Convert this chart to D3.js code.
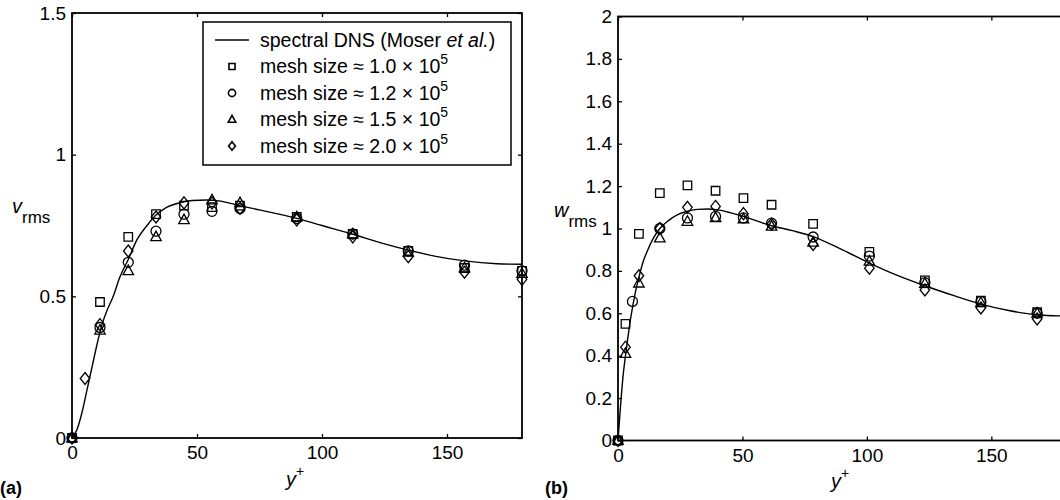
<!DOCTYPE html>
<html>
<head>
<meta charset="UTF-8">
<title>v_rms and w_rms profiles</title>
<script src="https://d3js.org/d3.v7.min.js"></script>
<style>
    body { margin: 0; background: #fff; }
    text { font-family: "Liberation Sans", Arial, Helvetica, sans-serif; fill: #000; }
    .tick text { font-size: 19px; }
</style>
</head>
<body>
<svg width="1060" height="500"></svg>
<script>
// ---- data: panel (a) v_rms ----
const xTicks = [0, 50, 100, 150];
const vTicks = [0, 0.5, 1, 1.5];
const wTicks = [0, 0.2, 0.4, 0.6, 0.8, 1, 1.2, 1.4, 1.6, 1.8, 2];

const vDnsX = [0, 2, 4, 6, 8, 10, 12, 14, 16.5, 19, 22.5, 26, 30, 33.6, 38, 43, 48, 54, 60, 67, 75, 90, 100, 112, 125, 135, 145, 157, 170, 180];
const vDnsY = [0, 0.03, 0.09, 0.17, 0.25, 0.33, 0.4, 0.45, 0.5, 0.565, 0.63, 0.7, 0.75, 0.787, 0.815, 0.83, 0.838, 0.84, 0.835, 0.82, 0.805, 0.775, 0.75, 0.72, 0.685, 0.662, 0.642, 0.625, 0.615, 0.613];

const vX = [0, 11.2, 22.5, 33.6, 44.8, 56, 67.2, 89.9, 112.3, 134.5, 157, 180];
const vSquare = [0, 0.48, 0.71, 0.79, 0.82, 0.815, 0.82, 0.78, 0.72, 0.66, 0.6, 0.59];
const vCircle = [0, 0.39, 0.62, 0.73, 0.79, 0.80, 0.81, 0.775, 0.72, 0.66, 0.61, 0.59];
const vTriangle = [0, 0.38, 0.59, 0.71, 0.77, 0.84, 0.83, 0.78, 0.72, 0.655, 0.6, 0.58];
const vDiamondX = [0, 5.2, 11.2, 22.5, 33.6, 44.8, 56, 67.2, 89.9, 112.3, 134.5, 157, 180];
const vDiamond = [0, 0.21, 0.40, 0.66, 0.78, 0.83, 0.83, 0.81, 0.77, 0.71, 0.64, 0.585, 0.56];

// ---- data: panel (b) w_rms ----
const wDnsX = [0, 1, 2, 3.35, 5, 7, 8.4, 10, 12, 14, 16.8, 20, 24, 27.5, 32, 36, 40, 45, 50.4, 56, 61.7, 70, 78.4, 90, 101, 112, 123.3, 135, 145.8, 157, 168.4, 180];
const wDnsY = [0, 0.16, 0.3, 0.43, 0.57, 0.7, 0.77, 0.84, 0.9, 0.95, 1.0, 1.035, 1.065, 1.08, 1.09, 1.092, 1.088, 1.075, 1.057, 1.035, 1.013, 0.99, 0.962, 0.9, 0.837, 0.78, 0.73, 0.683, 0.643, 0.613, 0.593, 0.587];

const wX = [0, 3, 8.4, 16.8, 27.9, 39.2, 50.4, 61.7, 78.4, 101, 123.3, 145.8, 168.4];
const wSquare = [0, 0.55, 0.975, 1.167, 1.203, 1.178, 1.143, 1.112, 1.022, 0.89, 0.755, 0.66, 0.605];
const wCircleX = [0, 5.8, 16.8, 27.9, 39.2, 50.4, 61.7, 78.4, 101, 123.3, 145.8, 168.4];
const wCircle = [0, 0.656, 1.0, 1.05, 1.057, 1.05, 1.025, 0.96, 0.87, 0.745, 0.655, 0.6];
const wTriangle = [0, 0.41, 0.742, 0.955, 1.033, 1.05, 1.045, 1.01, 0.935, 0.845, 0.74, 0.65, 0.6];
const wDiamond = [0, 0.44, 0.777, 1.0, 1.10, 1.104, 1.07, 1.02, 0.925, 0.813, 0.71, 0.625, 0.573];

const legendLabels = ["1.0", "1.2", "1.5", "2.0"];

const svg = d3.select("svg");

// marker shapes (r = half size in px)
function markerPath(kind, r) {
    if (kind === "square") return d3.symbol().type(d3.symbolSquare).size((2 * r * 0.85) ** 2)();
    if (kind === "circle") return d3.symbol().type(d3.symbolCircle).size(Math.PI * r * r)();
    if (kind === "triangle") {
        const h = r * 1.9;
        return "M0," + (-h * 0.6) + "L" + r * 1.05 + "," + h * 0.4 + "L" + (-r * 1.05) + "," + h * 0.4 + "Z";
    }
    return "M0," + (-r * 1.2) + "L" + r * 0.95 + ",0L0," + r * 1.2 + "L" + (-r * 0.95) + ",0Z";
}

function drawMarkers(g, x, y, xs, ys, kind) {
    g.selectAll(null)
        .data(xs.map((d, i) => [d, ys[i]]))
        .enter().append("path")
        .attr("d", markerPath(kind, 5))
        .attr("transform", d => "translate(" + x(d[0]) + "," + y(d[1]) + ")")
        .attr("fill", "none")
        .attr("stroke", "#000")
        .attr("stroke-width", 1.3);
}

function panel(opts) {
    const x = d3.scaleLinear().domain([0, 180]).range(opts.xr);
    const y = d3.scaleLinear().domain(opts.yd).range(opts.yr);
    const g = svg.append("g");

    // ticks on all four sides, pointing inward
    const tk = 4;
    g.append("g").attr("transform", "translate(0," + opts.yr[0] + ")")
        .call(d3.axisBottom(x).tickValues(xTicks).tickSize(-tk).tickPadding(8).tickFormat(d => String(d)));
    g.append("g").attr("transform", "translate(0," + opts.yr[1] + ")")
        .call(d3.axisTop(x).tickValues(xTicks).tickSize(-tk).tickFormat(""));
    g.append("g").attr("transform", "translate(" + opts.xr[0] + ",0)")
        .call(d3.axisLeft(y).tickValues(opts.ticks).tickSize(-tk).tickPadding(6).tickFormat(d => String(d)));
    g.append("g").attr("transform", "translate(" + opts.xr[1] + ",0)")
        .call(d3.axisRight(y).tickValues(opts.ticks).tickSize(-tk).tickFormat(""));
    g.selectAll(".domain").remove();
    g.selectAll(".tick line").attr("stroke", "#000").attr("stroke-width", 1.3);
    g.selectAll(".tick text").attr("fill", "#000");

    g.append("rect")
        .attr("x", opts.xr[0]).attr("y", opts.yr[1])
        .attr("width", opts.xr[1] - opts.xr[0]).attr("height", opts.yr[0] - opts.yr[1])
        .attr("fill", "none").attr("stroke", "#000").attr("stroke-width", 1.8);

    // DNS curve
    const line = d3.line().x(d => x(d[0])).y(d => y(d[1])).curve(d3.curveMonotoneX);
    g.append("path")
        .datum(opts.dnsX.map((d, i) => [d, opts.dnsY[i]]))
        .attr("d", line)
        .attr("fill", "none").attr("stroke", "#000").attr("stroke-width", 1.4);

    drawMarkers(g, x, y, opts.sq[0], opts.sq[1], "square");
    drawMarkers(g, x, y, opts.ci[0], opts.ci[1], "circle");
    drawMarkers(g, x, y, opts.tr[0], opts.tr[1], "triangle");
    drawMarkers(g, x, y, opts.di[0], opts.di[1], "diamond");

    // y label with subscript
    const yl = g.append("text").attr("x", opts.ylab[0]).attr("y", opts.ylab[1]);
    yl.append("tspan").style("font-style", "italic").style("font-size", "20px").text(opts.ysym);
    yl.append("tspan").attr("dy", 10).style("font-size", "17px").text("rms");

    // x label y+
    const xl = g.append("text").attr("x", opts.xlab[0]).attr("y", opts.xlab[1]);
    xl.append("tspan").style("font-style", "italic").style("font-size", "20px").text("y");
    xl.append("tspan").attr("dy", -10).style("font-size", "14px").text("+");

    g.append("text").attr("x", opts.tag[0]).attr("y", opts.tag[1])
        .style("font-weight", "bold").style("font-size", "18px").text(opts.tagText);
    return { x, y };
}

panel({
    xr: [72, 522], yr: [438, 13], yd: [0, 1.5], ticks: vTicks,
    dnsX: vDnsX, dnsY: vDnsY,
    sq: [vX, vSquare], ci: [vX, vCircle], tr: [vX, vTriangle], di: [vDiamondX, vDiamond],
    ysym: "v", ylab: [12, 213], xlab: [286, 486], tag: [0, 494], tagText: "(a)"
});

panel({
    xr: [618, 1066], yr: [440.5, 16.5], yd: [0, 2], ticks: wTicks,
    dnsX: wDnsX, dnsY: wDnsY,
    sq: [wX, wSquare], ci: [wCircleX, wCircle], tr: [wX, wTriangle], di: [wX, wDiamond],
    ysym: "w", ylab: [554, 217], xlab: [831, 488], tag: [545, 494], tagText: "(b)"
});

// legend
const lg = svg.append("g");
lg.append("rect").attr("x", 203).attr("y", 22).attr("width", 308).attr("height", 143)
    .attr("fill", "#fff").attr("stroke", "#000").attr("stroke-width", 1.5);
const rowY = [40, 66.5, 93, 119.5, 146];
lg.append("line").attr("x1", 215).attr("x2", 249).attr("y1", rowY[0]).attr("y2", rowY[0])
    .attr("stroke", "#000").attr("stroke-width", 1.4);
const t0 = lg.append("text").attr("x", 260).attr("y", rowY[0] + 6.5).style("font-size", "19.5px");
t0.append("tspan").text("spectral DNS (Moser ");
t0.append("tspan").style("font-style", "italic").text("et al.");
t0.append("tspan").text(")");

const kinds = ["square", "circle", "triangle", "diamond"];
kinds.forEach((k, i) => {
    const cy = rowY[i + 1];
    lg.append("path")
        .attr("d", markerPath(k, 3.6))
        .attr("transform", "translate(232," + cy + ")")
        .attr("fill", "none").attr("stroke", "#000").attr("stroke-width", 1.6);
    const t = lg.append("text").attr("x", 260).attr("y", cy + 6.5).style("font-size", "19.5px");
    t.append("tspan").text("mesh size \u2248 " + legendLabels[i] + " \u00d7 10");
    t.append("tspan").attr("dy", -9).style("font-size", "14px").text("5");
});
</script>
</body>
</html>
